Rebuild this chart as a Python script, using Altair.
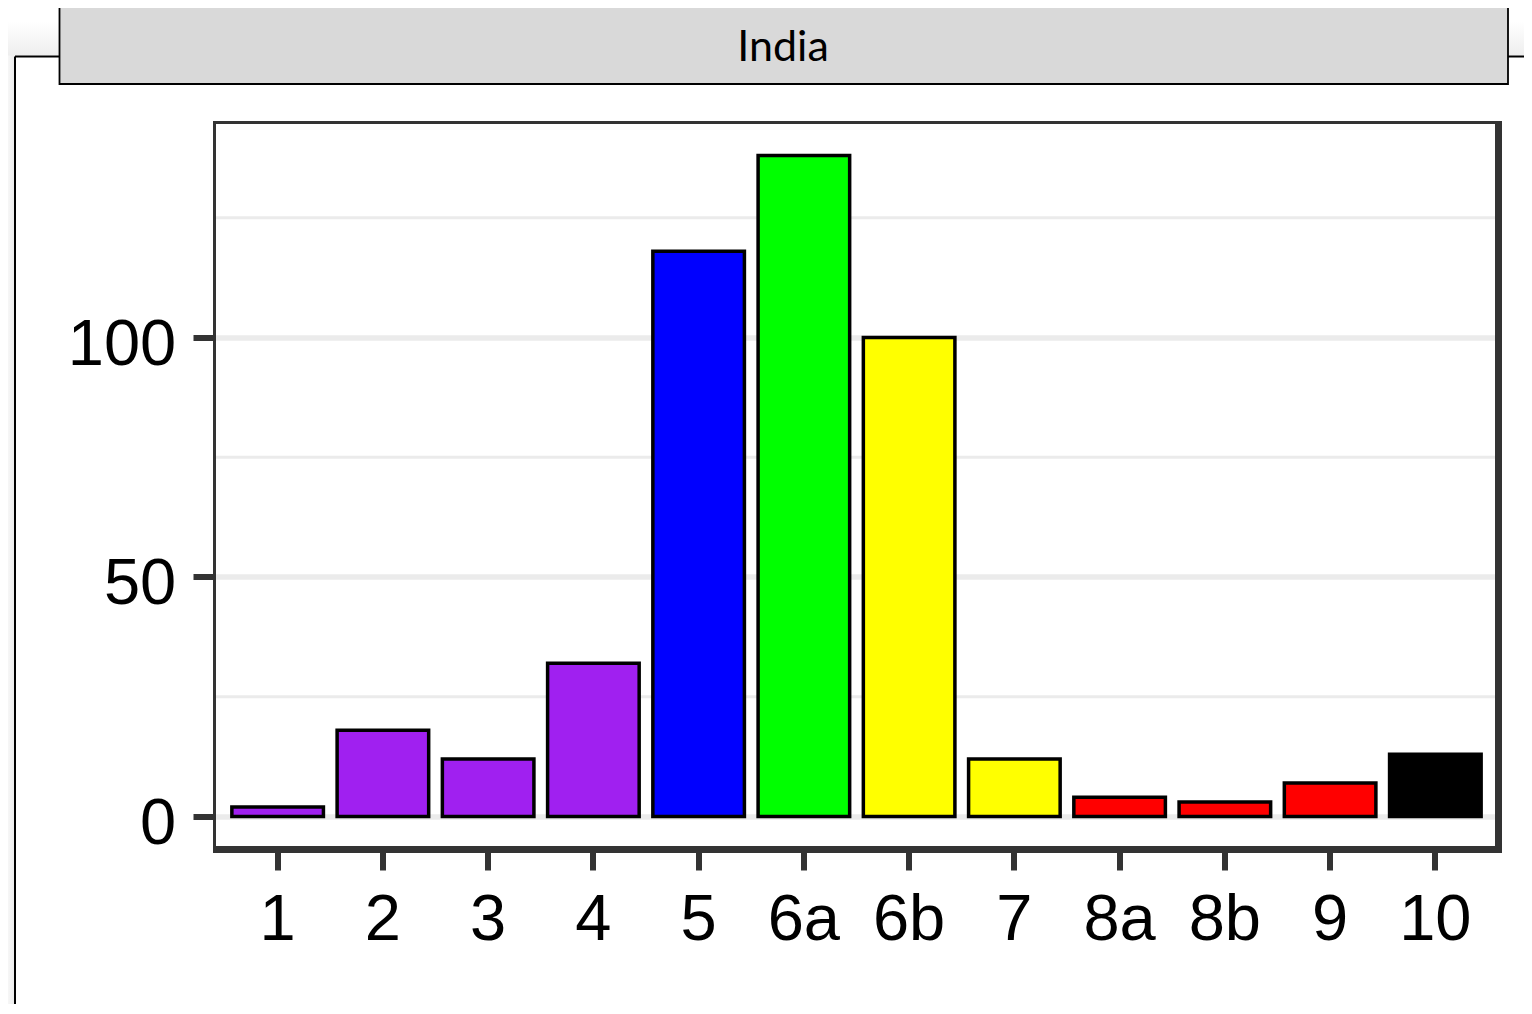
import altair as alt
import pandas as pd

# ---- data ----
categories = ["1", "2", "3", "4", "5", "6a", "6b", "7", "8a", "8b", "9", "10"]
counts = [2, 18, 12, 32, 118, 138, 100, 12, 4, 3, 7, 13]
bar_colors = ["#A020F0", "#A020F0", "#A020F0", "#A020F0", "#0000FF", "#00FF00",
              "#FFFF00", "#FFFF00", "#FF0000", "#FF0000", "#FF0000", "#000000"]
major_ticks = [0, 50, 100]
minor_ticks = [25, 75, 125]
panel_title = "India"

W, H = 1284, 727
LEFT, TOP = 206.5, 114.5
TOTAL_W, TOTAL_H = 1516, 996

df = pd.DataFrame({"cat": categories, "val": counts})
minor_df = pd.DataFrame({"v": minor_ticks})
one = pd.DataFrame({"a": [0]})

yscale = alt.Scale(domain=[-6.9, 144.9], nice=False, zero=False)
yaxis = alt.Axis(values=major_ticks, domain=False, grid=True,
                 gridColor="#EBEBEB", gridWidth=5.5, tickSize=21.5,
                 tickWidth=6, tickColor="#333333", labelPadding=17.3,
                 labelOffset=7, labelFont="Liberation Sans",
                 labelFontSize=65, labelColor="black")

grid_minor = alt.Chart(minor_df).mark_rule(color="#EBEBEB", strokeWidth=3).encode(
    y=alt.Y("v:Q", scale=yscale, axis=yaxis, title=None),
    x=alt.value(0), x2=alt.value(W),
)

bars = alt.Chart(df).mark_bar(stroke="black", strokeWidth=3.5).encode(
    x=alt.X("cat:N", sort=categories, title=None,
            scale=alt.Scale(paddingInner=0.13, paddingOuter=0.165),
            axis=alt.Axis(labelAngle=0, domain=False, grid=False, tickSize=20.5,
                          tickWidth=6, tickColor="#333333", labelPadding=18.5,
                          labelFont="Liberation Sans", labelFontSize=65,
                          labelColor="black")),
    y=alt.Y("val:Q", scale=yscale, title=None, axis=yaxis),
    fill=alt.Fill("cat:N", scale=alt.Scale(domain=categories, range=bar_colors),
                  legend=None),
)

def hrule(x, x2, y, w, c):
    return alt.Chart(one).mark_rule(color=c, strokeWidth=w).encode(
        x=alt.value(x), x2=alt.value(x2), y=alt.value(y))

def vrule(x, y, y2, w, c):
    return alt.Chart(one).mark_rule(color=c, strokeWidth=w).encode(
        x=alt.value(x), y=alt.value(y), y2=alt.value(y2))

# panel border (thin top/left, thick right/bottom)
border = [
    hrule(-1.5, W + 3.5, 0, 3, "#333333"),
    vrule(0, -1.5, H + 3.5, 3, "#333333"),
    hrule(-1.5, W + 3.5, H, 7, "#333333"),
    vrule(W, -1.5, H + 3.5, 7, "#333333"),
]

# outer figure frame pieces and soft shadow
ox = lambda px: px - (LEFT + 8)
oy = lambda py: py - (TOP + 8)

shadow_v = alt.Chart(one).mark_rect(fill={
    "gradient": "linear", "x1": 0, "y1": 0, "x2": 1, "y2": 0,
    "stops": [{"offset": 0, "color": "#F7F7F7"}, {"offset": 1, "color": "#EDEDED"}]}
).encode(x=alt.value(ox(8)), x2=alt.value(ox(14)), y=alt.value(oy(30)), y2=alt.value(oy(1010)))
shadow_h1 = alt.Chart(one).mark_rect(fill={
    "gradient": "linear", "x1": 0, "y1": 0, "x2": 0, "y2": 1,
    "stops": [{"offset": 0, "color": "#FFFFFF"}, {"offset": 1, "color": "#EEEEEE"}]}
).encode(x=alt.value(ox(8)), x2=alt.value(ox(59)), y=alt.value(oy(22)), y2=alt.value(oy(55.5)))
shadow_h2 = alt.Chart(one).mark_rect(fill={
    "gradient": "linear", "x1": 0, "y1": 0, "x2": 0, "y2": 1,
    "stops": [{"offset": 0, "color": "#FFFFFF"}, {"offset": 1, "color": "#EEEEEE"}]}
).encode(x=alt.value(ox(1509)), x2=alt.value(ox(1540)), y=alt.value(oy(22)), y2=alt.value(oy(55.5)))

frame = [
    vrule(ox(15), oy(56.5), oy(1020), 2, "black"),
    hrule(ox(15), ox(60), oy(56.5), 2, "black"),
    hrule(ox(1508), ox(1540), oy(56.5), 2, "black"),
]

header_box = alt.Chart(one).mark_rect(fill="#D9D9D9", stroke="black", strokeWidth=1.8).encode(
    x=alt.value(ox(59.5)), x2=alt.value(ox(1508)),
    y=alt.value(oy(6.8)), y2=alt.value(oy(84)),
)
header_text = alt.Chart(one).mark_text(
    text=panel_title, font="Lato", fontSize=43, color="black",
    align="center", baseline="alphabetic",
).encode(x=alt.value(ox(783)), y=alt.value(oy(61)))

chart = alt.layer(
    shadow_v, shadow_h1, shadow_h2, *frame, header_box, header_text,
    grid_minor, bars, *border,
).properties(
    width=W, height=H,
    autosize=alt.AutoSizeParams(type="none"),
    padding={"left": LEFT, "top": TOP,
             "right": TOTAL_W - LEFT - W, "bottom": TOTAL_H - TOP - H},
    background="white",
).configure_view(strokeWidth=0)

chart.save("out.html", embed_options={"renderer": "svg", "actions": False})
